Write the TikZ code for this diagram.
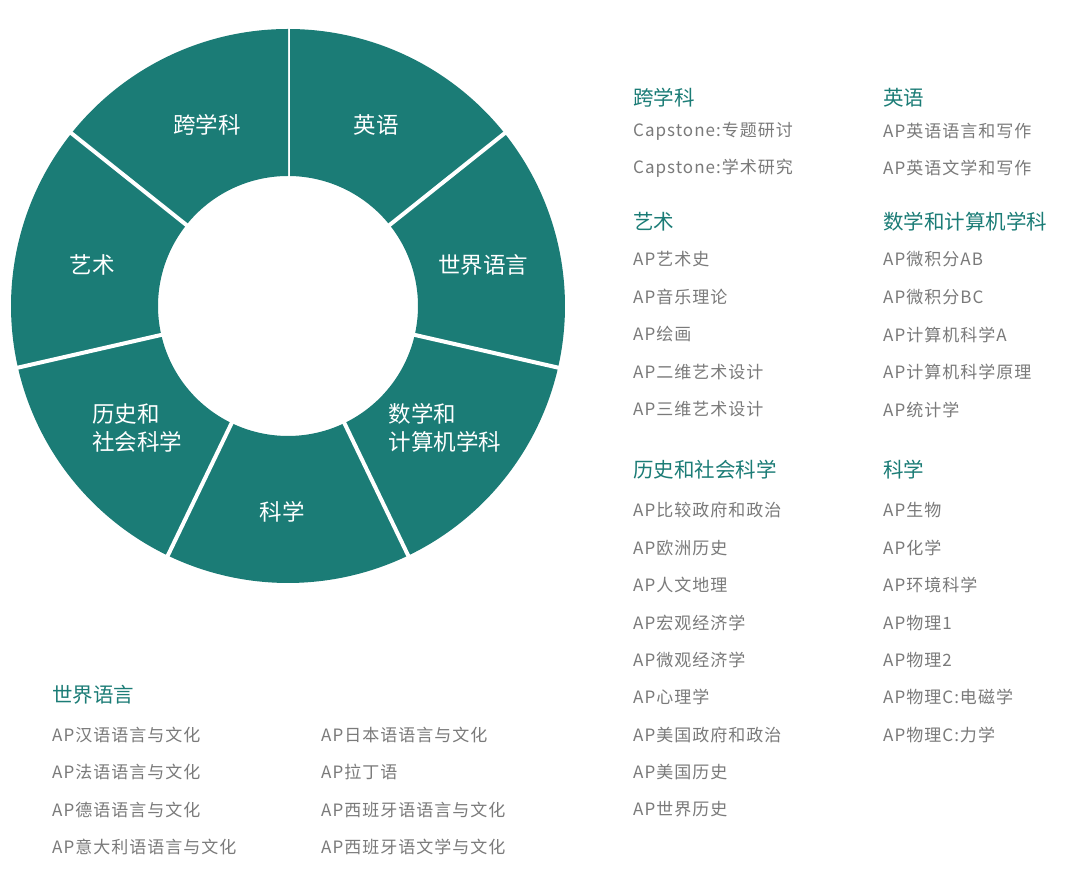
\documentclass[tikz,border=0pt]{standalone}
\usepackage{fontspec}
\setmainfont{Noto Sans CJK SC}
\newfontfamily\itemfont[LetterSpace=6]{Noto Sans CJK SC}
\definecolor{teal1}{HTML}{1B7C76}
\definecolor{itemgray}{HTML}{7A7A7A}
\begin{document}
\begin{tikzpicture}[x=1pt,y=1pt,
  lbl/.style={text=white,font=\fontsize{22.5}{28}\selectfont,align=center},
  head/.style={anchor=west,text=teal1,font=\fontsize{20.5}{24}\selectfont,inner sep=0pt},
  item/.style={anchor=west,text=itemgray,font=\itemfont\fontsize{17}{20}\selectfont,inner sep=0pt}]
\useasboundingbox[fill=white] (0,0) rectangle (1080,887);
\coordinate (c) at (288,581);
\foreach \i in {0,...,6}{
  \pgfmathsetmacro{\a}{90-\i*360/7}
  \pgfmathsetmacro{\b}{90-(\i+1)*360/7}
  \fill[teal1] ([shift={(\a:277)}]c) arc[start angle=\a,end angle=\b,radius=277]
     -- ([shift={(\b:130)}]c) arc[start angle=\b,end angle=\a,radius=130] -- cycle;
  \draw[white,line width=4pt] ([shift={(\a:125)}]c) -- ([shift={(\a:282)}]c);
}
\node[lbl] (l1) at (207,762) {跨学科};
\node[lbl] (l2) at (376,762) {英语};
\node[lbl] (l3) at (483,622) {世界语言};
\node[lbl,align=left] (l4) at (445,459) {数学和\\计算机学科};
\node[lbl] (l5) at (282,375) {科学};
\node[lbl,align=left] (l6) at (137,459) {历史和\\社会科学};
\node[lbl] (l7) at (92,622) {艺术};
% column 1
\node[head] (h1) at (633,789) {跨学科};
\node[item] (i11) at (633,756) {Capstone:专题研讨};
\node[item] (i12) at (633,719) {Capstone:学术研究};
\node[head] (h2) at (633,665) {艺术};
\foreach \t [count=\k] in {AP艺术史,AP音乐理论,AP绘画,AP二维艺术设计,AP三维艺术设计}
  \node[item] (a\k) at (633,665-37.5*\k) {\t};
\node[head] (h3) at (633,417) {历史和社会科学};
\foreach \t [count=\k] in {AP比较政府和政治,AP欧洲历史,AP人文地理,AP宏观经济学,AP微观经济学,AP心理学,AP美国政府和政治,AP美国历史,AP世界历史}
  \node[item] (b\k) at (633,414-37.4*\k) {\t};
% column 2
\node[head] (h4) at (883,789) {英语};
\node[item] (e1) at (883,756) {AP英语语言和写作};
\node[item] (e2) at (883,719) {AP英语文学和写作};
\node[head] (h5) at (883,665) {数学和计算机学科};
\foreach \t [count=\k] in {AP微积分AB,AP微积分BC,AP计算机科学A,AP计算机科学原理,AP统计学}
  \node[item] (m\k) at (883,665-37.5*\k) {\t};
\node[head] (h6) at (883,417) {科学};
\foreach \t [count=\k] in {AP生物,AP化学,AP环境科学,AP物理1,AP物理2,AP物理C:电磁学,AP物理C:力学}
  \node[item] (s\k) at (883,414-37.4*\k) {\t};
% bottom
\node[head] (h7) at (52,192) {世界语言};
\foreach \t [count=\k] in {AP汉语语言与文化,AP法语语言与文化,AP德语语言与文化,AP意大利语语言与文化}
  \node[item] (w\k) at (52,189-37.2*\k) {\t};
\foreach \t [count=\k] in {AP日本语语言与文化,AP拉丁语,AP西班牙语语言与文化,AP西班牙语文学与文化}
  \node[item] (x\k) at (321,189-37.2*\k) {\t};
\end{tikzpicture}
\end{document}
